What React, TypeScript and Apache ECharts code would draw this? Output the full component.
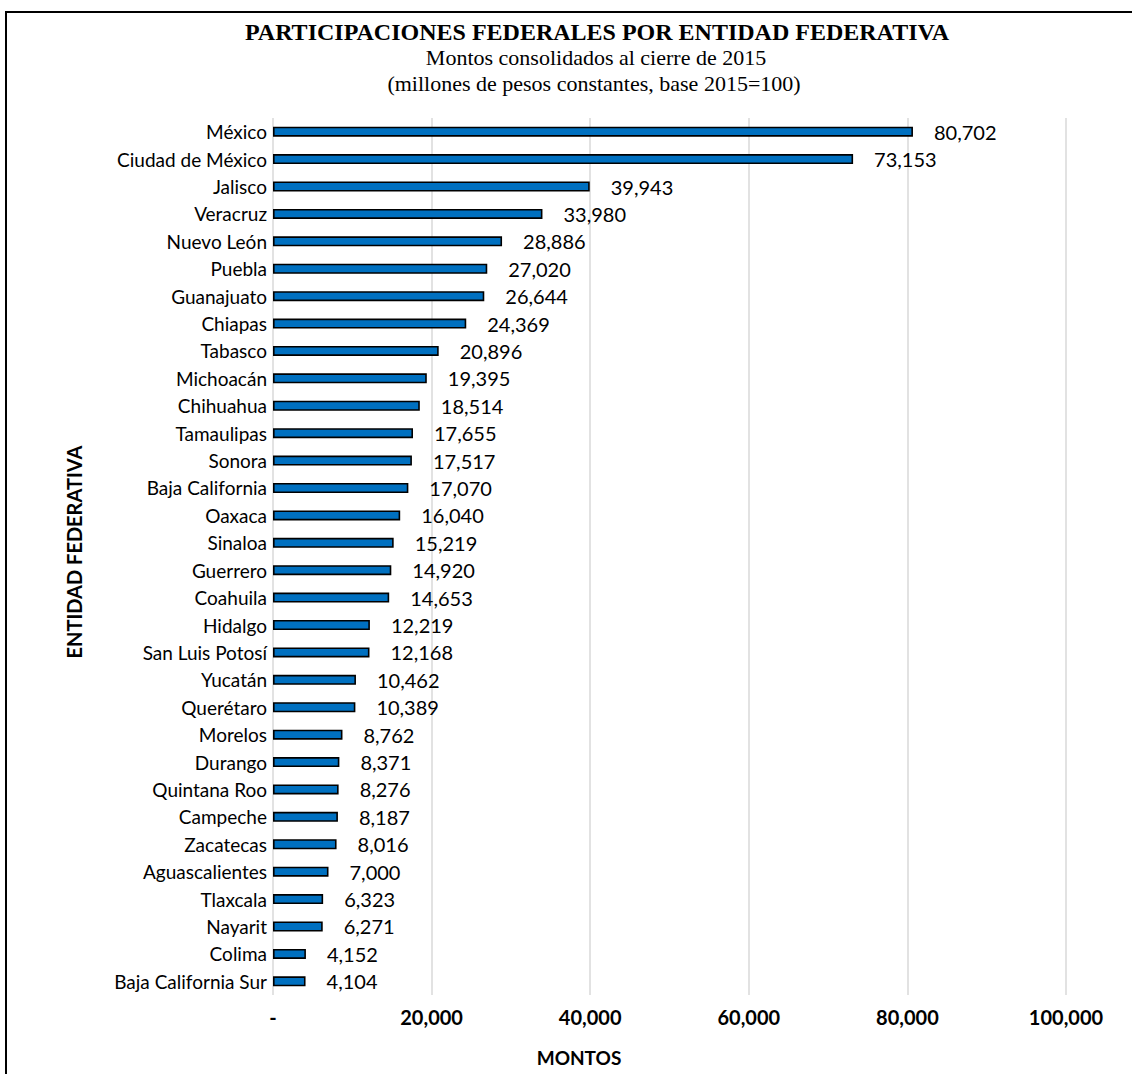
import React, { useEffect, useRef } from "react";
import * as echarts from "echarts";

const categories = [
  "México", "Ciudad de México", "Jalisco", "Veracruz", "Nuevo León", "Puebla",
  "Guanajuato", "Chiapas", "Tabasco", "Michoacán", "Chihuahua", "Tamaulipas",
  "Sonora", "Baja California", "Oaxaca", "Sinaloa", "Guerrero", "Coahuila",
  "Hidalgo", "San Luis Potosí", "Yucatán", "Querétaro", "Morelos", "Durango",
  "Quintana Roo", "Campeche", "Zacatecas", "Aguascalientes", "Tlaxcala",
  "Nayarit", "Colima", "Baja California Sur",
];
const values = [
  80702, 73153, 39943, 33980, 28886, 27020, 26644, 24369, 20896, 19395, 18514,
  17655, 17517, 17070, 16040, 15219, 14920, 14653, 12219, 12168, 10462, 10389,
  8762, 8371, 8276, 8187, 8016, 7000, 6323, 6271, 4152, 4104,
];
const xTicks = [0, 20000, 40000, 60000, 80000, 100000];

const titleText = "PARTICIPACIONES FEDERALES POR ENTIDAD FEDERATIVA";
const subtitle1 = "Montos consolidados al cierre de 2015";
const subtitle2 = "(millones de pesos constantes, base 2015=100)";
const xName = "MONTOS";
const yName = "ENTIDAD FEDERATIVA";

const fmt = (v: number) => (v === 0 ? "-" : v.toLocaleString("en-US"));

export default function App() {
  const ref = useRef<HTMLDivElement>(null);
  useEffect(() => {
    if (!ref.current) return;
    const chart = echarts.init(ref.current, null, { renderer: "svg" });
    const serif = "'Liberation Serif', 'Times New Roman', serif";
    const sans = "Lato, 'Noto Sans', sans-serif";
    chart.setOption({
      animation: false,
      backgroundColor: "#ffffff",
      grid: { left: 273, right: 66, top: 118, bottom: 79, containLabel: false },
      xAxis: {
        type: "value",
        min: xTicks[0],
        max: xTicks[xTicks.length - 1],
        interval: 20000,
        axisLine: { show: false },
        axisTick: { show: false },
        splitLine: { show: true, lineStyle: { color: "#d9d9d9", width: 1.5 } },
        axisLabel: {
          formatter: (v: number) => fmt(v),
          fontFamily: sans,
          fontWeight: "bold",
          fontSize: 20,
          color: "#000",
          margin: 12,
        },
      },
      yAxis: {
        type: "category",
        data: categories,
        inverse: true,
        axisLine: { show: false },
        axisTick: { show: false },
        axisLabel: {
          fontFamily: sans,
          fontSize: 19,
          color: "#000",
          margin: 6,
        },
      },
      series: [
        {
          type: "bar",
          data: values,
          barWidth: 10,
          itemStyle: { color: "#0070C0", borderColor: "#000", borderWidth: 1.6 },
          label: {
            show: true,
            position: "right",
            distance: 21,
            formatter: (p: any) => fmt(p.value),
            fontFamily: sans,
            fontSize: 20,
            color: "#000",
          },
        },
      ],
      graphic: [
        {
          type: "rect",
          shape: { x: 6, y: 12, width: 1200, height: 1200 },
          style: { fill: "none", stroke: "#000", lineWidth: 2 },
          silent: true,
        },
        {
          type: "text",
          x: 597,
          y: 32,
          style: {
            text: titleText,
            font: `bold 24px ${serif}`,
            fill: "#000",
            textAlign: "center",
            textVerticalAlign: "middle",
          },
        },
        {
          type: "text",
          x: 596,
          y: 57,
          style: {
            text: subtitle1,
            font: `22px ${serif}`,
            fill: "#000",
            textAlign: "center",
            textVerticalAlign: "middle",
          },
        },
        {
          type: "text",
          x: 594,
          y: 83,
          style: {
            text: subtitle2,
            font: `22px ${serif}`,
            fill: "#000",
            textAlign: "center",
            textVerticalAlign: "middle",
          },
        },
        {
          type: "text",
          x: 579,
          y: 1057,
          style: {
            text: xName,
            font: `bold 19px ${sans}`,
            fill: "#000",
            textAlign: "center",
            textVerticalAlign: "middle",
          },
        },
        {
          type: "text",
          x: 74,
          y: 552,
          rotation: Math.PI / 2,
          style: {
            text: yName,
            font: `bold 20px ${sans}`,
            fill: "#000",
            textAlign: "center",
            textVerticalAlign: "middle",
          },
        },
      ],
    });
    return () => chart.dispose();
  }, []);
  return (
    <div
      ref={ref}
      style={{ position: "absolute", left: 0, top: 0, width: 1132, height: 1074 }}
    />
  );
}
